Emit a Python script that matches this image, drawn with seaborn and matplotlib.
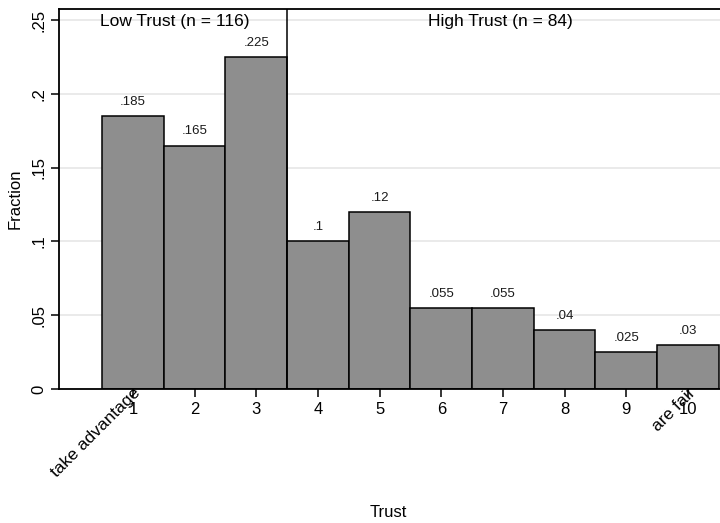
import matplotlib
matplotlib.use("Agg")
import matplotlib.pyplot as plt
import seaborn as sns
import pandas as pd

trust = [1, 2, 3, 4, 5, 6, 7, 8, 9, 10]
fraction = [0.185, 0.165, 0.225, 0.1, 0.12, 0.055, 0.055, 0.04, 0.025, 0.03]
value_labels = [".185", ".165", ".225", ".1", ".12", ".055", ".055", ".04", ".025", ".03"]
yticks = [0, 0.05, 0.1, 0.15, 0.2, 0.25]
ytick_labels = ["0", ".05", ".1", ".15", ".2", ".25"]
end_labels = ["take advantage", "are fair"]
group_labels = ["Low Trust (n = 116)", "High Trust (n = 84)"]

sns.set_style("white")
plt.rcParams['font.family'] = ['Liberation Sans', 'DejaVu Sans']
plt.rcParams['text.color'] = 'black'
plt.rcParams['axes.labelcolor'] = 'black'
plt.rcParams['xtick.color'] = 'black'
plt.rcParams['ytick.color'] = 'black'

df = pd.DataFrame({"Trust": trust, "Fraction": fraction})

fig = plt.figure(figsize=(7.2, 5.23), dpi=100)
ax = fig.add_axes([59/720, 134/523, 661/720, 380/523])

ax.set_ylim(0, 0.2575)
ax.set_xlim(-0.2, 10.52)
for y in yticks:
    ax.axhline(y, color="#e6e6e6", lw=1.2, zorder=0)

sns.barplot(data=df, x="Trust", y="Fraction", native_scale=True, width=1,
            color="#8e8e8e", saturation=1, edgecolor="black", linewidth=1.1,
            ax=ax, zorder=2)

for xv, yv, lab in zip(trust, fraction, value_labels):
    ax.text(xv, yv + 0.0055, lab, ha="center", va="bottom", fontsize=9.5, color="#1a1a1a", zorder=4)

ax.axvline(3.5, color="black", lw=1.1, zorder=3)
ax.text(1.68, 0.2493, group_labels[0], ha="center", va="center", fontsize=12.5, zorder=4)
ax.text(6.96, 0.2493, group_labels[1], ha="center", va="center", fontsize=12.5, zorder=4)

ax.set_xticks(trust)
ax.set_xticklabels([str(t) for t in trust], fontsize=12)
ax.set_yticks(yticks)
ax.set_yticklabels(ytick_labels, fontsize=12, rotation=90, va="center")
ax.tick_params(axis="x", which="major", bottom=True, direction="out", length=6, width=1.1, pad=3,
               color="black", labelcolor="black")
ax.tick_params(axis="y", left=True, direction="out", length=6, width=1.1, pad=3,
               color="black", labelcolor="black")

ax.xaxis.remove_overlapping_locs = False
ax.set_xticks([1, 10], minor=True)
ax.set_xticklabels(end_labels, minor=True, rotation=45, ha="right", va="top",
                   rotation_mode="anchor", fontsize=12.5)
ax.tick_params(axis="x", which="minor", bottom=True, direction="in", length=7, width=1.1, pad=-3,
               color="black", labelcolor="black")

ax.set_xlabel("Trust", fontsize=12, color="black")
ax.xaxis.set_label_coords(0.498, -0.305)
ax.set_ylabel("Fraction", fontsize=12, color="black")
ax.yaxis.set_label_coords(-0.055, 0.5)

for s in ["left", "bottom", "top"]:
    ax.spines[s].set_color("black")
    ax.spines[s].set_linewidth(1.3)
ax.spines["right"].set_visible(False)

fig.savefig("out.png", dpi=100)
